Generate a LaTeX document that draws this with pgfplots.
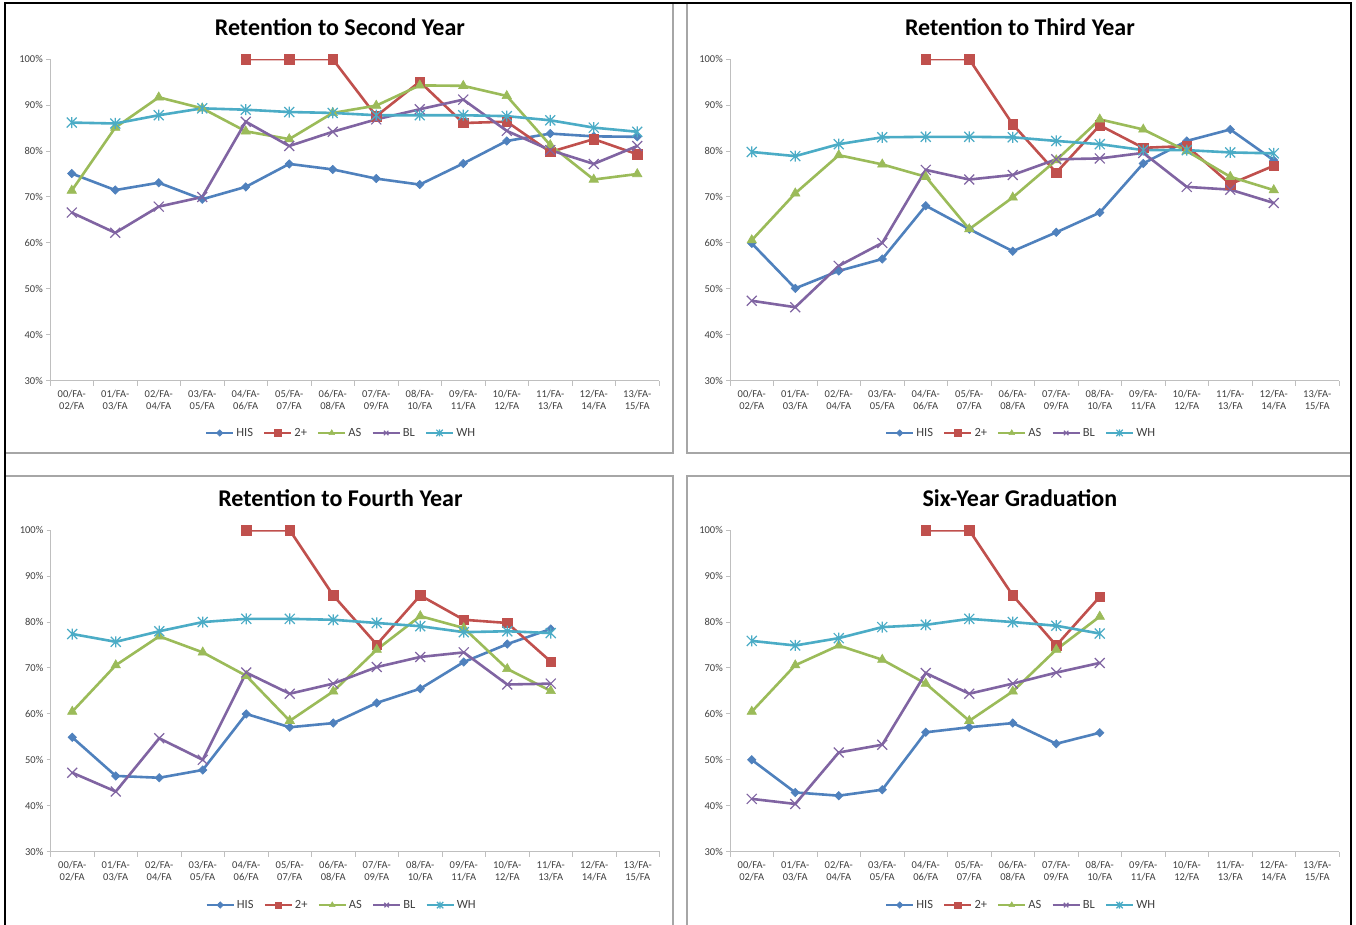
\documentclass[border=0pt]{standalone}
\usepackage{fontspec}
\setmainfont{Carlito}
\usepackage{pgfplots}
\usepackage{pgfplotstable}
\pgfplotsset{compat=1.18}
\definecolor{cHIS}{HTML}{4F81BD}
\definecolor{cTWO}{HTML}{C0504D}
\definecolor{cAS}{HTML}{9BBB59}
\definecolor{cBL}{HTML}{8064A2}
\definecolor{cWH}{HTML}{4BACC6}
\definecolor{axgray}{HTML}{BFBFBF}
\definecolor{tickgray}{HTML}{404040}
\definecolor{boxgray}{HTML}{A6A6A6}

\pgfdeclareplotmark{xstar}{%
  \pgfpathmoveto{\pgfqpoint{-\pgfplotmarksize}{-\pgfplotmarksize}}%
  \pgfpathlineto{\pgfqpoint{\pgfplotmarksize}{\pgfplotmarksize}}%
  \pgfpathmoveto{\pgfqpoint{-\pgfplotmarksize}{\pgfplotmarksize}}%
  \pgfpathlineto{\pgfqpoint{\pgfplotmarksize}{-\pgfplotmarksize}}%
  \pgfpathmoveto{\pgfqpoint{0pt}{-1.1\pgfplotmarksize}}%
  \pgfpathlineto{\pgfqpoint{0pt}{1.1\pgfplotmarksize}}%
  \pgfusepathqstroke}

% x HIS TWO AS BL WH
\pgfplotstableread{
x HIS TWO AS BL WH
0 75.1 nan 71.4 66.6 86.2
1 71.5 nan 85.1 62.2 86.0
2 73.1 nan 91.7 67.9 87.8
3 69.5 nan 89.3 70.0 89.3
4 72.2 100 84.3 86.4 89.0
5 77.2 100 82.6 81.1 88.5
6 76.0 100 88.3 84.2 88.3
7 74.0 87.6 89.9 86.9 87.8
8 72.7 95.1 94.3 89.1 87.8
9 77.3 86.1 94.2 91.2 87.8
10 82.2 86.4 92.0 84.4 87.6
11 83.8 79.8 81.3 80.2 86.7
12 83.2 82.6 73.8 77.2 85.1
13 83.1 79.3 75.0 81.1 84.2
}\tabA
\pgfplotstableread{
x HIS TWO AS BL WH
0 59.9 nan 60.6 47.4 79.8
1 50.1 nan 70.8 46.0 78.9
2 53.9 nan 79.1 55.0 81.5
3 56.5 nan 77.1 60.0 83.0
4 68.1 100 74.4 75.9 83.1
5 63.0 100 63.0 73.8 83.1
6 58.2 85.8 69.9 74.8 83.0
7 62.3 75.3 78.0 78.2 82.2
8 66.6 85.6 86.9 78.4 81.5
9 77.3 80.7 84.7 79.6 80.2
10 82.2 81.1 80.0 72.2 80.2
11 84.7 72.8 74.4 71.6 79.7
12 78.0 76.8 71.5 68.7 79.5
}\tabB
\pgfplotstableread{
x HIS TWO AS BL WH
0 54.9 nan 60.5 47.2 77.4
1 46.5 nan 70.6 43.1 75.7
2 46.1 nan 76.9 54.7 78.0
3 47.8 nan 73.4 50.0 80.0
4 60.0 100 68.3 69.0 80.7
5 57.1 100 58.5 64.4 80.7
6 58.0 85.8 64.9 66.6 80.5
7 62.4 75.1 74.0 70.2 79.8
8 65.5 85.8 81.3 72.4 79.1
9 71.3 80.5 78.7 73.4 77.8
10 75.2 79.8 69.8 66.4 78.0
11 78.5 71.4 65.0 66.6 77.6
}\tabC
\pgfplotstableread{
x HIS TWO AS BL WH
0 50.0 nan 60.5 41.5 75.9
1 42.9 nan 70.6 40.4 74.9
2 42.2 nan 74.9 51.6 76.5
3 43.5 nan 71.8 53.3 78.9
4 56.0 100 66.6 68.9 79.4
5 57.1 100 58.5 64.4 80.7
6 58.0 85.8 64.9 66.6 80.0
7 53.5 74.9 74.0 69.0 79.2
8 55.9 85.5 81.2 71.1 77.5
}\tabD

\pgfplotsset{
  panel/.style={
    scale only axis, width=609pt, height=321.5pt,
    xmin=-0.5, xmax=13.5, ymin=30, ymax=100,
    axis x line*=bottom, axis y line*=left,
    axis line style={draw=axgray, line width=1pt, -},
    tick align=outside,
    xtick={0,...,13},
    xticklabels={{00/FA-\\02/FA},{01/FA-\\03/FA},{02/FA-\\04/FA},{03/FA-\\05/FA},{04/FA-\\06/FA},{05/FA-\\07/FA},{06/FA-\\08/FA},{07/FA-\\09/FA},{08/FA-\\10/FA},{09/FA-\\11/FA},{10/FA-\\12/FA},{11/FA-\\13/FA},{12/FA-\\14/FA},{13/FA-\\15/FA}},
    major x tick style={draw=none},
    minor xtick={-0.5,0.5,...,13.5},
    minor tick length=5pt, major tick length=4pt,
    ytick={30,40,...,100},
    yticklabels={30\%,40\%,50\%,60\%,70\%,80\%,90\%,100\%},
    tick style={draw=axgray, line width=1pt},
    ticklabel style={font=\fontsize{10.5}{12.5}\selectfont, text=tickgray},
    xticklabel style={align=center, inner sep=2pt, yshift=-3pt},
    yticklabel style={inner sep=3pt},
    clip=true,
    title style={anchor=center, font=\bfseries\fontsize{24}{28}\selectfont, text=black},
    legend columns=5,
    legend style={draw=none, fill=none, font=\fontsize{12.5}{14}\selectfont, text=tickgray,
      /tikz/every even column/.append style={column sep=8pt}, inner sep=0pt,
      nodes={inner sep=2pt}},
    legend image code/.code={%
      \draw[#1, mark=none, line width=2.4pt] (0pt,0pt) -- (27pt,0pt);
      \draw[#1, mark size=3.2pt] plot coordinates {(13.5pt,0pt)};},
  },
  sHIS/.style={color=cHIS, line width=2.6pt, mark=diamond*, mark size=4.2pt,
    mark options={solid, fill=cHIS, draw=cHIS, line width=0.6pt, xscale=1.33}},
  sTWO/.style={color=cTWO, line width=2.6pt, mark=square*, mark size=4.7pt,
    mark options={solid, fill=cTWO, draw=cTWO, line width=0.6pt}},
  sAS/.style={color=cAS, line width=2.6pt, mark=triangle*, mark size=5.4pt,
    mark options={solid, fill=cAS, draw=cAS, line width=0.6pt}},
  sBL/.style={color=cBL, line width=2.6pt, mark=x, mark size=7pt,
    mark options={solid, draw=cBL, line width=1.2pt}},
  sWH/.style={color=cWH, line width=2.6pt, mark=xstar, mark size=5pt,
    mark options={solid, draw=cWH, line width=1.2pt}},
}

\newcommand{\panelplots}[1]{%
  \addplot[sHIS] table[x=x,y=HIS] {#1}; \addlegendentry{HIS}
  \addplot[sTWO] table[x=x,y=TWO] {#1}; \addlegendentry{2+}
  \addplot[sAS] table[x=x,y=AS] {#1}; \addlegendentry{AS}
  \addplot[sBL] table[x=x,y=BL] {#1}; \addlegendentry{BL}
  \addplot[sWH] table[x=x,y=WH] {#1}; \addlegendentry{WH}
}

\begin{document}
\begin{tikzpicture}[x=1pt,y=1pt]
\useasboundingbox (0,0) rectangle (1356,924);
\fill[white] (0,0) rectangle (1356,924);
% panel boxes
\draw[boxgray, line width=1.2pt] (5,921) rectangle (673,471);
\draw[boxgray, line width=1.2pt] (687,921) rectangle (1351,471);
\draw[boxgray, line width=1.2pt] (5,448) rectangle (673,-10);
\draw[boxgray, line width=1.2pt] (687,448) rectangle (1351,-10);
% outer frame
\draw[black, line width=1.6pt] (5,-10) -- (5,921) -- (1351,921) -- (1351,-10);

\begin{axis}[panel, at={(50pt,543.3pt)}, anchor=south west,
  title={Retention to Second Year},
  title style={at={(axis description cs:0.476,1.080)}},
  legend style={at={(axis description cs:0.478,-0.1626)}, anchor=center}]
\panelplots{\tabA}
\end{axis}

\begin{axis}[panel, at={(730pt,543.3pt)}, anchor=south west,
  title={Retention to Third Year},
  title style={at={(axis description cs:0.476,1.080)}},
  legend style={at={(axis description cs:0.478,-0.1626)}, anchor=center}]
\panelplots{\tabB}
\end{axis}

\begin{axis}[panel, at={(50.5pt,72.3pt)}, anchor=south west,
  title={Retention to Fourth Year},
  title style={at={(axis description cs:0.476,1.082)}},
  legend style={at={(axis description cs:0.478,-0.166)}, anchor=center}]
\panelplots{\tabC}
\end{axis}

\begin{axis}[panel, at={(730pt,72.3pt)}, anchor=south west,
  title={Six-Year Graduation},
  title style={at={(axis description cs:0.476,1.082)}},
  legend style={at={(axis description cs:0.478,-0.166)}, anchor=center}]
\panelplots{\tabD}
\end{axis}
\end{tikzpicture}
\end{document}
